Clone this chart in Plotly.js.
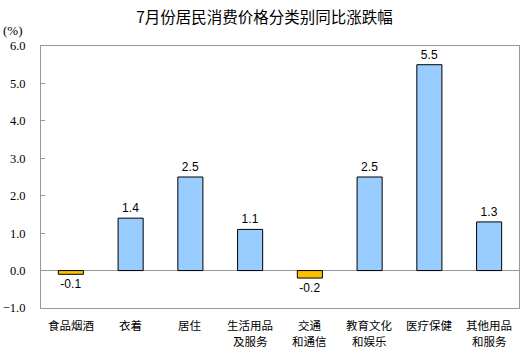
<!DOCTYPE html>
<html><head><meta charset="utf-8">
<script src="https://cdn.plot.ly/plotly-3.0.1.min.js"></script>
<style>body{margin:0;padding:0;background:#fff}#c{width:529px;height:356px}</style>
</head><body><div id="c"></div>
<script>
var categories = ['食品烟酒','衣着','居住','生活用品及服务','交通和通信','教育文化和娱乐','医疗保健','其他用品和服务'];
var labelLine1 = ['食品烟酒','衣着','居住','生活用品','交通','教育文化','医疗保健','其他用品'];
var labelLine2 = ['','','','及服务','和通信','和娱乐','','和服务'];
var values = [-0.1, 1.4, 2.5, 1.1, -0.2, 2.5, 5.5, 1.3];
var tickVals = [-1,0,1,2,3,4,5,6];
var colors = values.map(function(v){return v<0 ? '#FFC000' : '#99CCFF';});
var labels = values.map(function(v){return v.toFixed(1);});

var trace = {
  type:'bar', x:categories, y:values,
  marker:{color:colors, line:{color:'#000', width:1}},
  text:labels, textposition:'outside', cliponaxis:false,
  textfont:{family:'Liberation Sans, Arial', size:12, color:'#000'},
  width:0.42, hoverinfo:'none'
};
var ann = [{text:'(%)', xref:'paper', yref:'paper', x:-0.058, y:1.06, xanchor:'center', yanchor:'middle', showarrow:false,
    font:{family:'Liberation Serif', size:13, color:'#000'}}];
var lf = {family:'Noto Sans CJK SC', size:11.5, color:'#000'};
categories.forEach(function(c,i){
  ann.push({text:labelLine1[i], x:c, xref:'x', yref:'paper', y:0, yshift:-17, xanchor:'center', yanchor:'middle', showarrow:false, font:lf});
  if(labelLine2[i]) ann.push({text:labelLine2[i], x:c, xref:'x', yref:'paper', y:0, yshift:-33, xanchor:'center', yanchor:'middle', showarrow:false, font:lf});
});
var layout = {
  width:529, height:356,
  margin:{l:41, r:10, t:46, b:48},
  paper_bgcolor:'#fff', plot_bgcolor:'#fff',
  showlegend:false,
  title:{text:'7月份居民消费价格分类别同比涨跌幅', x:0.5, xanchor:'center', y:0.95, yanchor:'middle',
    font:{family:'Noto Sans CJK SC', size:15.5, color:'#000'}},
  xaxis:{showline:true, mirror:true, linecolor:'#999', linewidth:1, ticks:'', showgrid:false, showticklabels:false, fixedrange:true},
  yaxis:{range:[-1,6], tickvals:tickVals, tickformat:'.1f', showline:true, mirror:true, linecolor:'#999', linewidth:1,
    ticks:'inside', ticklen:4, tickcolor:'#999', showgrid:false, zeroline:true, zerolinecolor:'#999', zerolinewidth:1,
    ticklabelstandoff:12,
    tickfont:{family:'Liberation Serif', size:12.5, color:'#000'}, fixedrange:true},
  annotations:ann
};
Plotly.newPlot('c',[trace],layout,{displayModeBar:false,staticPlot:true});
</script></body></html>
